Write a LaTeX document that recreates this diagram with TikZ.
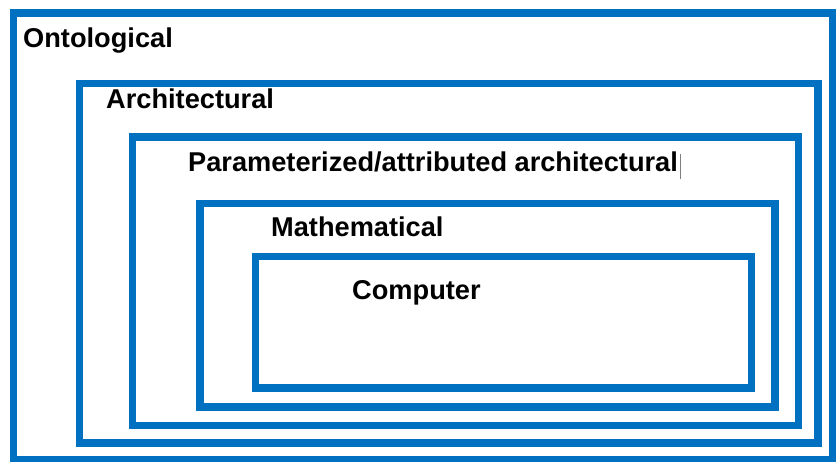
\documentclass[tikz,border=0pt]{standalone}
\usepackage{fontspec}
\setmainfont{Liberation Sans}
\definecolor{frameblue}{HTML}{0070C0}
\begin{document}
\begin{tikzpicture}[x=1pt,y=-1pt,
  frame/.style={draw=frameblue,line width=7.5pt},
  lbl/.style={anchor=base west,inner sep=0pt,font=\fontsize{27.2}{31}\selectfont\bfseries}]
\useasboundingbox (0,0) rectangle (836,461);
\draw[frame] (13.5,13) rectangle (833,459.5);
\draw[frame] (79.5,83.5) rectangle (818,443);
\draw[frame] (132.5,137) rectangle (798.5,425.5);
\draw[frame] (200,203.5) rectangle (775,407);
\draw[frame] (255.5,256.5) rectangle (751.5,388);
\node[lbl] (onto) at (23,47) {Ontological};
\node[lbl] (arch) at (106,108) {Architectural};
\node[lbl] (param) at (188,171) {Parameterized/attributed architectural};
\node[lbl] (math) at (271,236) {Mathematical};
\node[lbl] (comp) at (352,299) {Computer};
\draw[gray,line width=1pt] (680,154) -- (680,179);
\end{tikzpicture}
\end{document}
